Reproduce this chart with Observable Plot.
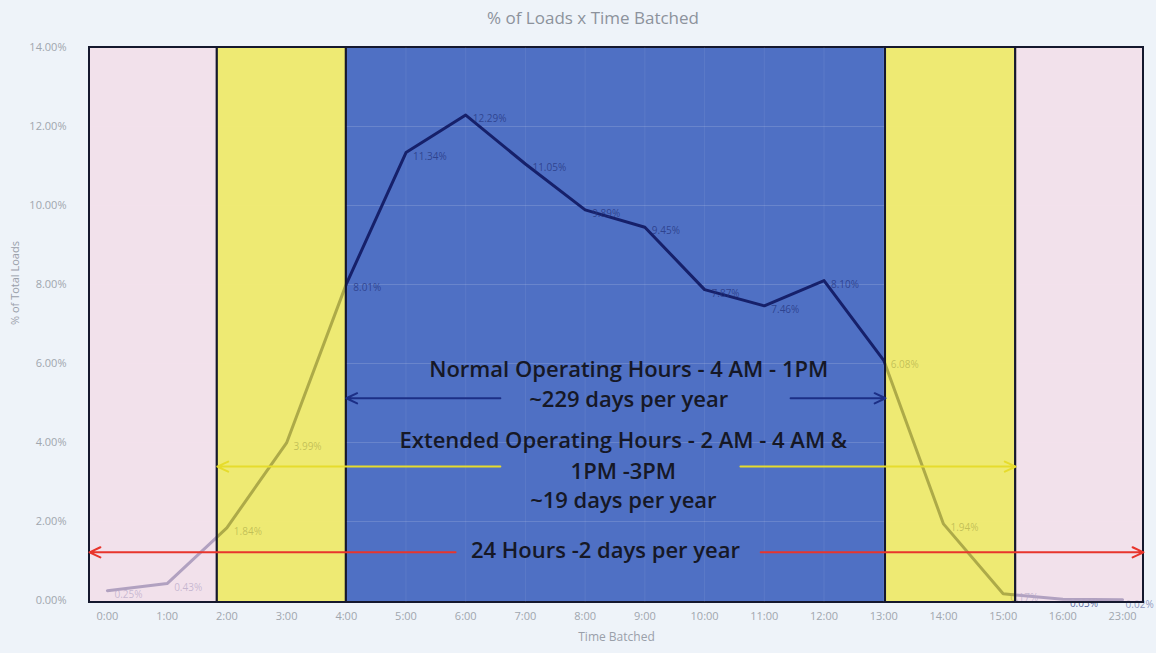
<!DOCTYPE html>
<html>
<head>
<meta charset="utf-8">
<script src="https://cdn.jsdelivr.net/npm/d3@7"></script>
<script src="https://cdn.jsdelivr.net/npm/@observablehq/plot@0.6"></script>
<style>
  html, body { margin: 0; padding: 0; background: #eef3f9; }
  #title { height: 30px; line-height: 36px; text-align: center; font-family: "Open Sans", sans-serif; font-size: 17px; color: #8c929c; padding-left: 30px; box-sizing: border-box; }
  #chart svg { display: block; }
</style>
</head>
<body>
<div id="title">% of Loads x Time Batched</div>
<div id="chart"></div>
<script>
// ---- data ----
const hours = ["0:00","1:00","2:00","3:00","4:00","5:00","6:00","7:00","8:00","9:00","10:00","11:00","12:00","13:00","14:00","15:00","16:00","23:00"];
const pct   = [0.25, 0.43, 1.84, 3.99, 8.01, 11.34, 12.29, 11.05, 9.89, 9.45, 7.87, 7.46, 8.10, 6.08, 1.94, 0.17, 0.03, 0.02];
const yTicks = [0, 2, 4, 6, 8, 10, 12, 14];

// shaded periods (in hour-index units along the category axis)
const periodStart = [-0.3, 1.84, 4.0, 13.03, 15.21];
const periodEnd   = [1.84, 4.0, 13.03, 15.21, 17.35];
const periodKind  = ["24h", "ext", "normal", "ext", "24h"];

// annotation arrows (x in hour-index units, y in %)
const arrowFrom = [6.58, 11.44, 6.58, 10.6, 5.83, 10.94];
const arrowTo   = [4.0, 13.03, 1.84, 15.21, -0.3, 17.35];
const arrowY    = [5.12, 5.12, 3.39, 3.39, 1.22, 1.22];
const arrowKind = ["normal", "normal", "ext", "ext", "24h", "24h"];

// annotation texts
const noteText = ["Normal Operating Hours - 4 AM - 1PM", "~229 days per year",
                  "Extended Operating Hours - 2 AM - 4 AM &", "1PM -3PM", "~19 days per year",
                  "24 Hours -2 days per year"];
const noteX = [8.73, 8.73, 8.64, 8.64, 8.64, 8.34];
const noteY = [5.83, 5.07, 4.05, 3.26, 2.52, 1.25];

// ---- build tables ----
const series = hours.map((h, i) => ({i, h, v: pct[i]}));
const lastPoint = series.slice(-1);
const periods = periodStart.map((s, k) => ({x1: s, x2: periodEnd[k], kind: periodKind[k]}));
const arrows = arrowFrom.map((a, k) => ({x1: a, x2: arrowTo[k], y: arrowY[k], kind: arrowKind[k]}));
const notes = noteText.map((t, k) => ({t, x: noteX[k], y: noteY[k]}));

const fillOf = {"24h": "#f4d8e6", "ext": "#eee63a", "normal": "#4f70c4"};
const arrowColor = {"normal": "#1c2f86", "ext": "#e6dc2c", "24h": "#e8352c"};
const fmt = v => v.toFixed(2) + "%";

const chart = Plot.plot({
  width: 1156,
  height: 623,
  marginLeft: 89,
  marginRight: 13,
  marginTop: 17,
  marginBottom: 51,
  style: {background: "transparent", color: "#9aa0aa", fontFamily: "Open Sans, sans-serif", fontSize: "11px"},
  x: {domain: [-0.3, 17.35]},
  y: {domain: [-0.05, 14]},
  marks: [
    // normal operating hours (underneath the line)
    Plot.rect(periods.filter(d => d.kind === "normal"), {x1: "x1", x2: "x2", fill: d => fillOf[d.kind], stroke: "#15182e", strokeWidth: 2}),
    // faint gridlines
    Plot.ruleY(yTicks.slice(1, -1), {stroke: "#ffffff", strokeOpacity: 0.15}),
    Plot.ruleX(d3.range(18), {stroke: "#ffffff", strokeOpacity: 0.07}),
    // data line and labels
    Plot.line(series, {x: "i", y: "v", stroke: "#16206a", strokeWidth: 3}),
    Plot.text(series.slice(0, -1), {x: "i", y: "v", text: d => fmt(d.v), textAnchor: "start", dx: 7, dy: 4, fill: "#25357e", fillOpacity: 0.75, fontSize: 10}),
    Plot.text(lastPoint, {x: "i", y: "v", text: d => fmt(d.v), textAnchor: "start", dx: 3, dy: 5, fill: "#25357e", fillOpacity: 0.5, fontSize: 10}),
    // translucent overlays for other periods
    Plot.rect(periods.filter(d => d.kind !== "normal"), {x1: "x1", x2: "x2", fill: d => fillOf[d.kind], fillOpacity: 0.7, stroke: "#15182e", strokeWidth: 2}),
    // annotation arrows
    Plot.arrow(arrows, {x1: "x1", x2: "x2", y1: "y", y2: "y", stroke: d => arrowColor[d.kind], strokeWidth: 2, headLength: 9, headAngle: 50}),
    // annotation text
    Plot.text(notes, {x: "x", y: "y", text: "t", fill: "#161826", fontSize: 22, fontWeight: 600, fontFamily: "Open Sans, sans-serif"}),
    // axes
    Plot.axisX(d3.range(18), {tickFormat: i => hours[i], tickSize: 0, tickPadding: 10, label: null, fill: "#a0a6ae"}),
    Plot.axisY(yTicks, {tickFormat: d => d.toFixed(2) + "%", tickSize: 0, tickPadding: 23, label: null, fill: "#a0a6ae"}),
    Plot.text(["Time Batched"], {frameAnchor: "bottom", dy: 38, fill: "#9aa0aa", fontSize: 12}),
    Plot.text(["% of Total Loads"], {frameAnchor: "left", dx: -74, rotate: -90, fill: "#9aa0aa", fontSize: 11})
  ]
});
document.getElementById("chart").appendChild(chart);
</script>
</body>
</html>
